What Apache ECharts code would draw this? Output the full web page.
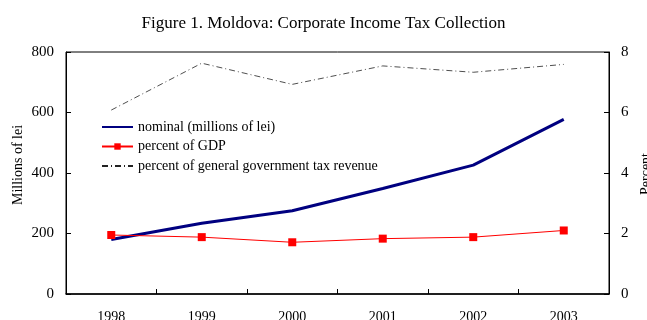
<!DOCTYPE html>
<html>
<head>
<meta charset="utf-8">
<script src="https://cdn.jsdelivr.net/npm/echarts@6/dist/echarts.min.js"></script>
<style>
  html, body { margin: 0; padding: 0; background: #fff; }
  #chart { width: 647px; height: 320px; }
</style>
</head>
<body>
<div id="chart"></div>
<script>
// Corporate income tax collection in Moldova, 1998-2003
const years = ['1998', '1999', '2000', '2001', '2002', '2003'];
const nominalLei = [180, 234, 275, 349, 426, 577];          // millions of lei (left axis)
const pctGDP = [1.95, 1.88, 1.71, 1.83, 1.88, 2.10];         // percent (right axis)
const pctTaxRevenue = [6.08, 7.63, 6.93, 7.54, 7.33, 7.59];  // percent (right axis)
const leftAxisTitle = 'Millions of lei';
const rightAxisTitle = 'Percent';

const serif = '"Liberation Serif", "DejaVu Serif", serif';

const chart = echarts.init(document.getElementById('chart'), null, { renderer: 'canvas' });

const yAxisCommon = {
  type: 'value',
  axisLine: { show: true, lineStyle: { color: '#000', width: 1 } },
  axisTick: { show: true, inside: true, length: 5, lineStyle: { color: '#000' } },
  splitLine: { show: false },
  axisLabel: { color: '#000', fontFamily: serif, fontSize: 15, margin: 12 }
};

// vertical axis titles, drawn as free text so they can sit exactly beside the axes
function axisTitle(text, x, y) {
  return {
    type: 'text',
    x: x,
    y: y,
    rotation: Math.PI / 2,
    style: {
      text: text,
      fill: '#000',
      font: '14px ' + serif,
      textAlign: 'center',
      textVerticalAlign: 'middle'
    }
  };
}

chart.setOption({
  animation: false,
  backgroundColor: '#fff',
  title: {
    text: 'Figure 1. Moldova: Corporate Income Tax Collection',
    left: 'center',
    top: 10,
    textStyle: { fontFamily: serif, fontSize: 17, fontWeight: 'normal', color: '#000' }
  },
  grid: {
    left: 66, right: 38, top: 52, bottom: 26,
    outerBoundsMode: 'none',
    containLabel: false,
    show: true, borderColor: '#000', borderWidth: 1
  },
  graphic: [
    axisTitle(leftAxisTitle, 18, 165),
    axisTitle(rightAxisTitle, 646, 174)
  ],
  legend: {
    orient: 'vertical',
    left: 101,
    top: 120,
    padding: 0,
    itemWidth: 31,
    itemHeight: 8,
    itemGap: 5.5,
    textStyle: { fontFamily: serif, fontSize: 14, color: '#000' },
    data: [
      { name: 'nominal (millions of lei)', itemStyle: { opacity: 0 } },
      { name: 'percent of GDP' },
      { name: 'percent of general government tax revenue', itemStyle: { opacity: 0 } }
    ]
  },
  xAxis: {
    type: 'category',
    data: years,
    boundaryGap: true,
    axisLine: { lineStyle: { color: '#000', width: 1.5 } },
    axisTick: { show: true, inside: true, length: 5, lineStyle: { color: '#000' } },
    axisLabel: { color: '#000', fontFamily: serif, fontSize: 14, margin: 16 }
  },
  yAxis: [
    Object.assign({}, yAxisCommon, { min: 0, max: 800, interval: 200, position: 'left' }),
    Object.assign({}, yAxisCommon, { min: 0, max: 8, interval: 2, position: 'right' })
  ],
  series: [
    {
      name: 'nominal (millions of lei)',
      type: 'line',
      yAxisIndex: 0,
      data: nominalLei,
      symbol: 'none',
      lineStyle: { color: '#000080', width: 3 },
      itemStyle: { color: '#000080' },
      z: 3
    },
    {
      name: 'percent of GDP',
      type: 'line',
      yAxisIndex: 1,
      data: pctGDP,
      symbol: 'rect',
      symbolSize: 8,
      lineStyle: { color: '#ff0000', width: 1 },
      itemStyle: { color: '#ff0000' },
      z: 4
    },
    {
      name: 'percent of general government tax revenue',
      type: 'line',
      yAxisIndex: 1,
      data: pctTaxRevenue,
      symbol: 'none',
      lineStyle: { color: '#222', width: 0.8, type: [6, 3, 1, 3] },
      itemStyle: { color: '#222' },
      z: 2
    }
  ]
});
</script>
</body>
</html>
